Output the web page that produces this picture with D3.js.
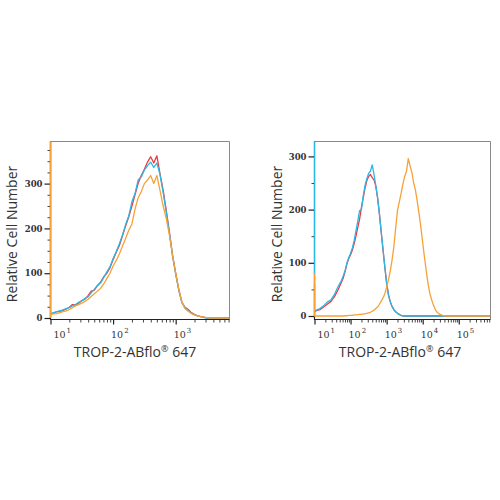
<!DOCTYPE html>
<meta charset="utf-8">
<script src="https://d3js.org/d3.v7.min.js"></script>
<style>
  body { margin: 0; background: #fff; }
</style>
<div id="chart"></div>
<script>

// ---- data ----
// left panel: x bin centres (fluorescence intensity), counts per sample
const leftX = [10, 11.2, 12.6, 14.1, 15.8, 17.8, 20, 22.4, 25.1, 28.2,
  31.6, 35.5, 39.8, 44.7, 50.1, 56.2, 63.1, 70.8, 79.4, 89.1,
  100, 112, 126, 141, 158, 178, 200, 224, 251, 282,
  316, 355, 398, 447, 501, 562, 631, 708, 794, 891,
  1000, 1122, 1259, 1413, 1585, 1778, 1995, 2239, 2512, 2818,
  3162, 3548, 3981, 7244];
const leftRed = [9, 11, 14, 15, 17, 20, 24, 30, 29, 33,
  39, 42, 50, 60, 62, 72, 80, 92, 100, 112,
  130, 146, 162, 183, 205, 226, 250, 275, 300, 318,
  332, 348, 360, 346, 362, 322, 285, 240, 192, 140,
  100, 63, 35, 24, 19, 12, 8, 5, 3, 2,
  0, 0, 0, 0];
const leftCyan = [9, 12, 14, 16, 18, 21, 23, 27, 30, 35,
  38, 44, 47, 56, 64, 73, 78, 90, 103, 114,
  133, 148, 166, 185, 208, 228, 260, 278, 308, 315,
  330, 340, 348, 336, 346, 320, 280, 236, 190, 140,
  98, 62, 34, 22, 16, 11, 7, 5, 3, 1,
  0, 0, 0, 0];
const leftOrange = [8, 9, 10, 12, 14, 16, 19, 23, 27, 30,
  33, 37, 42, 48, 54, 60, 66, 76, 88, 100,
  116, 128, 143, 160, 177, 196, 210, 243, 268, 282,
  300, 308, 318, 300, 318, 285, 250, 222, 185, 140,
  100, 64, 35, 21, 15, 10, 7, 5, 3, 2,
  1, 0, 0, 0];
// first-bin pile-up at the low edge (red, cyan, orange)
const leftEdge = [400, 400, 420];

// right panel
const rightX = [10, 11.2, 14.1, 17.8, 22.4, 28.2, 35.5, 44.7, 56.2,
  63.1, 70.8, 79.4, 89.1, 100, 112, 126, 141, 158, 178,
  200, 224, 251, 282, 316, 355, 398, 447, 501, 562,
  631, 708, 794, 891, 1000, 1122, 1259, 1413, 1585, 1778,
  1995, 2239, 2512, 2818, 3162, 3548, 3981, 4467, 5012, 5623,
  6310, 7079, 7943, 8913, 10000, 11220, 12589, 14125, 15849, 17783,
  19953, 22387, 25119, 28184, 35481, 44668, 56234, 758578];
const rightRed = [8, 10, 12, 17, 22, 27, 36, 49, 64,
  72, 84, 98, 108, 115, 124, 136, 150, 166, 182,
  204, 222, 240, 254, 262, 266, 260, 256, 244, 222,
  192, 158, 124, 92, 62, 40, 27, 18, 12, 8,
  5, 3, 1, 0, 0, 0, 0, 0, 0, 0,
  0, 0, 0, 0, 0, 0, 0, 0, 0, 0,
  0, 0, 0, 0, 0, 0, 0, 0];
const rightCyan = [8, 11, 14, 19, 26, 30, 40, 55, 67,
  76, 86, 100, 110, 118, 128, 142, 160, 178, 198,
  200, 225, 245, 258, 268, 272, 284, 266, 245, 222,
  192, 158, 126, 92, 62, 40, 27, 18, 12, 8,
  5, 3, 1, 0, 0, 0, 0, 0, 0, 0,
  0, 0, 0, 0, 0, 0, 0, 0, 0, 0,
  0, 0, 0, 0, 0, 0, 0, 0];
const rightOrange = [0, 0, 0, 0, 0, 0, 0, 0, 0,
  0, 0.5, 0.5, 1, 1, 1, 2, 2, 2.5, 3,
  3, 4, 4, 5, 6, 7, 9, 11, 14, 17,
  22, 28, 34, 42, 54, 68, 84, 105, 130, 165,
  198, 214, 230, 248, 262, 272, 296, 282, 270, 250,
  236, 215, 192, 166, 138, 110, 84, 60, 42, 30,
  20, 12, 7, 4, 1, 0, 0, 0];
const rightEdge = [60, 340, 80];

const yTicksMajor = [0, 100, 200, 300];
const leftDecades = [1, 2, 3];
const rightDecades = [1, 2, 3, 4, 5];
const xTitle = "TROP-2-ABflo";
const yTitle = "Relative Cell Number";
const colors = ["#ee3a3e", "#2bb7e6", "#f7a136"];

// ---- panels ----
const panels = [
  {xs: leftX, series: [leftRed, leftCyan, leftOrange], edge: leftEdge,
   xDom: [10, 7244], yMax: 394, minorStep: 25, decades: leftDecades,
   x0: 50.5, x1: 229.5, yZero: 318, yTop: 141.5, yAxis: 319.5, titleX: 135, yTitleX: 17},
  {xs: rightX, series: [rightRed, rightCyan, rightOrange], edge: rightEdge,
   xDom: [10, 758578], yMax: 328, minorStep: 50, decades: rightDecades,
   x0: 314.5, x1: 490.5, yZero: 316, yTop: 141.5, yAxis: 319.5, titleX: 400, yTitleX: 282}
];

const svg = d3.select("#chart").append("svg")
  .attr("width", 500).attr("height", 500);

panels.forEach(function(p, pi) {
  const x = d3.scaleLog().domain(p.xDom).range([p.x0, p.x1]);
  const y = d3.scaleLinear().domain([0, p.yMax]).range([p.yZero, p.yTop]);

  const g = svg.append("g");

  // clip to the frame
  g.append("clipPath").attr("id", "clip" + pi)
    .append("rect")
    .attr("x", p.x0 - 1).attr("y", p.yTop)
    .attr("width", p.x1 - p.x0 + 1).attr("height", p.yAxis - p.yTop);

  // frame (top and right grey)
  g.append("path")
    .attr("d", `M${p.x0},${p.yTop}H${p.x1}V${p.yAxis}`)
    .attr("fill", "none").attr("stroke", "#8a8a8a").attr("stroke-width", 1);

  // y axis: major + minor ticks
  const yMinor = d3.range(p.minorStep, p.yMax, p.minorStep).filter(v => v % 100 !== 0);
  g.append("g")
    .attr("transform", `translate(${p.x0},0)`)
    .call(d3.axisLeft(y).tickValues(yTicksMajor).tickSize(6).tickPadding(2))
    .call(a => a.select(".domain").remove())
    .call(a => a.selectAll("line").attr("stroke", "#222").attr("stroke-width", 1.2))
    .call(a => a.selectAll("text")
      .attr("font-family", "DejaVu Serif").attr("font-size", 8.5)
      .attr("font-weight", "bold").attr("fill", "#333"));
  g.append("g")
    .attr("transform", `translate(${p.x0},0)`)
    .call(d3.axisLeft(y).tickValues(yMinor).tickSize(3).tickFormat(""))
    .call(a => a.select(".domain").remove())
    .call(a => a.selectAll("line").attr("stroke", "#444"));

  // x axis: log ticks, decades longer
  const xt = x.ticks();
  g.append("g")
    .attr("transform", `translate(0,${p.yAxis})`)
    .call(d3.axisBottom(x).tickValues(xt.filter(v => Math.abs(Math.log10(v) % 1) > 1e-6)).tickSize(3).tickFormat(""))
    .call(a => a.select(".domain").remove())
    .call(a => a.selectAll("line").attr("stroke", "#444"));
  g.append("g")
    .attr("transform", `translate(0,${p.yAxis})`)
    .call(d3.axisBottom(x).tickValues(xt.filter(v => Math.abs(Math.log10(v) % 1) < 1e-6)).tickSize(5).tickFormat(""))
    .call(a => a.select(".domain").remove())
    .call(a => a.selectAll("line").attr("stroke", "#222").attr("stroke-width", 1.2));

  // axis lines
  g.append("path")
    .attr("d", `M${p.x0},${p.yTop}V${p.yAxis}H${p.x1}`)
    .attr("fill", "none").attr("stroke", "#222").attr("stroke-width", 1.2);

  // curves (drawn over the axis lines, as in the reference)
  const line = d3.line()
    .x(d => x(d[0]))
    .y(d => y(d[1]));
  p.series.forEach(function(vals, si) {
    const pts = [[p.xDom[0], 0], [p.xDom[0], p.edge[si]]]
      .concat(p.xs.map((v, i) => [v, vals[i]]));
    g.append("path")
      .datum(pts)
      .attr("clip-path", `url(#clip${pi})`)
      .attr("d", line)
      .attr("fill", "none")
      .attr("stroke", colors[si])
      .attr("stroke-width", 1.3)
      .attr("stroke-linejoin", "round");
  });

  // decade labels 10^n
  p.decades.forEach(function(e) {
    const tx = Math.max(x(Math.pow(10, e)) - 2, p.x0 + 3);
    const t = g.append("text")
      .attr("x", tx).attr("y", p.yAxis + 18.5)
      .attr("font-family", "DejaVu Serif").attr("font-size", 9.5)
      .attr("fill", "#333");
    t.append("tspan").text("10");
    t.append("tspan").attr("dy", -5).attr("dx", 1).attr("font-size", 7).text(e);
  });

  // axis titles
  const xt2 = g.append("text")
    .attr("x", p.titleX).attr("y", 357)
    .attr("text-anchor", "middle")
    .attr("font-family", "Open Sans").attr("font-size", 14)
    .attr("fill", "#333");
  xt2.append("tspan").text(xTitle);
  xt2.append("tspan").attr("dy", -5).attr("font-size", 9).text("®");
  xt2.append("tspan").attr("dy", 5).text(" 647");

  g.append("text")
    .attr("transform", `translate(${p.yTitleX},${234}) rotate(-90)`)
    .attr("text-anchor", "middle")
    .attr("font-family", "Open Sans").attr("font-size", 14)
    .attr("fill", "#333")
    .text(yTitle);
});
</script>
